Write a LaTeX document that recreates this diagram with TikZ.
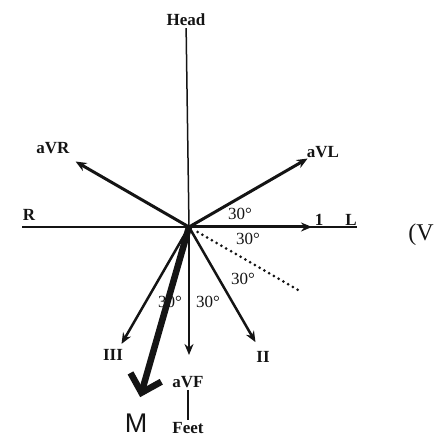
\documentclass[tikz,border=0pt]{standalone}
\usepackage{fontspec}
\setmainfont{Liberation Serif}
\newfontfamily\ecgsans{Liberation Sans}
\usetikzlibrary{arrows.meta}
\definecolor{ecgInk}{HTML}{141414}
\tikzset{
  ecg axis/.style={draw=ecgInk, line width=1.5pt},
  ecg lead/.style={draw=ecgInk, line width=3pt, -{Stealth[length=11pt,width=9pt]}},
  ecg thin lead/.style={ecg lead, line width=2.5pt},
  ecg mean/.style={draw=ecgInk, line width=6.5pt, -{Straight Barb[length=16pt,width=32pt]}},
  ecg dots/.style={draw=ecgInk, line width=3pt, line cap=round, dash pattern=on 0pt off 5.5pt},
  ecg label/.style={font=\fontsize{17}{17}\selectfont\bfseries, text=ecgInk, inner sep=2pt},
  ecg angle/.style={font=\fontsize{17}{17}\selectfont, text=ecgInk, inner sep=0pt},
}

\begin{document}
\begin{tikzpicture}[x=1pt, y=1pt]
  \useasboundingbox (0,0) rectangle (436,439);

  % Centre of the hexaxial reference
  \coordinate (O) at (189,212);

  % Axis labels and the ends of the horizontal axis
  \node[ecg label] (head) at (186,419) {Head};
  \node[ecg label] (feet) at (188,11) {Feet};
  \node[ecg label] (R) at (29,224) {R};
  \node[ecg label] (L) at (351,219) {L};
  \coordinate (Rend) at (22,212);
  \coordinate (Lend) at (357,212);

  \draw[ecg axis] (Rend) -- (Lend);
  \draw[ecg axis] (head) -- (O);

  % Tips of the six leads
  \coordinate (Itip)   at ([shift={(0:123)}]O);
  \coordinate (aVLtip) at ([shift={(30:137)}]O);
  \coordinate (aVRtip) at ([shift={(150:131)}]O);
  \coordinate (IItip)  at ([shift={(-60:133)}]O);
  \coordinate (IIItip) at ([shift={(-120:135)}]O);
  \coordinate (aVFtip) at ([shift={(-90:128)}]O);

  \draw[ecg lead] (O) -- (Itip);
  \draw[ecg lead] (O) -- (aVLtip);
  \draw[ecg lead] (O) -- (aVRtip);
  \draw[ecg thin lead] (O) -- (IItip);
  \draw[ecg thin lead] (O) -- (IIItip);
  \draw[ecg thin lead] (O) -- (aVFtip);

  \node[ecg label] (leadI) at (319,219) {1};
  \node[ecg label] (aVL) at (323,287) {aVL};
  \node[ecg label] (aVR) at (53,291) {aVR};
  \node[ecg label] (II) at (263,82) {II};
  \node[ecg label] (III) at (113,84) {III};
  \node[ecg label] (aVF) at (188,57) {aVF};
  \draw[ecg axis] (aVF) -- (feet);

  % Dotted line 30 degrees below lead I
  \coordinate (dotStart) at ([shift={(-30:10)}]O);
  \coordinate (dotEnd) at ([shift={(-30:128)}]O);
  \draw[ecg dots] (dotStart) -- (dotEnd);

  % Angle marks
  \foreach \p/\n in {(240,225)/a, (248,200)/b, (243,160)/c, (170,137)/d, (208,137)/e} {
    \node[ecg angle] (ang\n) at \p {30°};
  }

  % Mean axis
  \coordinate (Mtip) at ([shift={(-106:177)}]O);
  \draw[ecg mean] (O) -- (Mtip);
  \node[font=\ecgsans\fontsize{27}{27}\selectfont, text=ecgInk, anchor=north, inner sep=0pt] (M) at (136,25) {M};

  % Text at the right edge
  \node[font=\fontsize{24}{24}\selectfont, text=ecgInk, anchor=east, inner sep=0pt] (cut) at (434,204) {(V};
\end{tikzpicture}
\end{document}
